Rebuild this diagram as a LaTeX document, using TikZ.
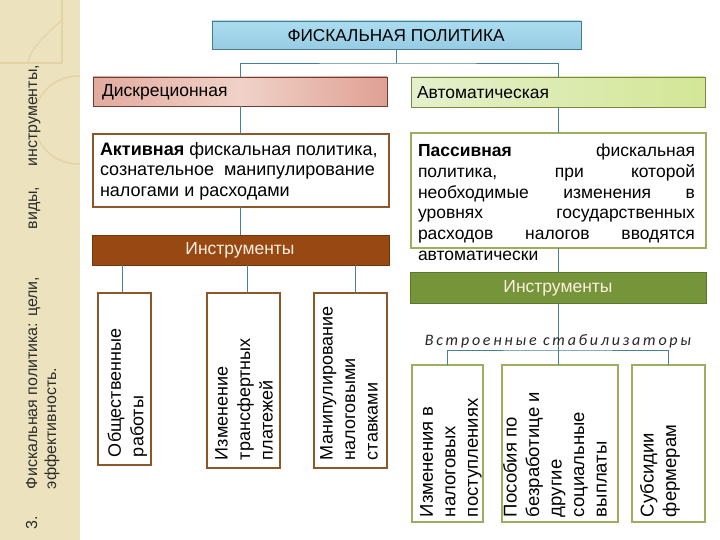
\documentclass[tikz,border=0pt]{standalone}
\usepackage{fontspec}
\setmainfont{Liberation Sans}
\newfontfamily\stabfont[LetterSpace=17]{Carlito}
\definecolor{stripbg}{RGB}{237,226,190}
\definecolor{stripline}{RGB}{226,212,168}
\definecolor{striptext}{RGB}{45,45,45}
\definecolor{conn}{RGB}{70,130,150}
\definecolor{blueT}{RGB}{172,220,238}
\definecolor{blueB}{RGB}{150,204,228}
\definecolor{blueD}{RGB}{70,125,145}
\definecolor{pinkL}{RGB}{226,170,158}
\definecolor{pinkM}{RGB}{240,210,200}
\definecolor{pinkR}{RGB}{224,160,148}
\definecolor{pinkD}{RGB}{110,62,50}
\definecolor{greenL}{RGB}{228,240,205}
\definecolor{greenR}{RGB}{212,230,150}
\definecolor{greenD}{RGB}{125,135,65}
\definecolor{brownF}{RGB}{152,72,18}
\definecolor{brownD}{RGB}{115,52,10}
\definecolor{brownB}{RGB}{140,88,40}
\definecolor{oliveF}{RGB}{118,148,58}
\definecolor{oliveD}{RGB}{92,118,42}
\definecolor{oliveB}{RGB}{155,175,95}
\definecolor{lighttext}{RGB}{252,240,225}
\tikzset{
  every node/.style={inner sep=0pt, outer sep=0pt},
  connector/.style={draw=conn, line width=0.9pt},
  mainfont/.style={font=\fontsize{17.5}{20.7}\selectfont},
  stripfont/.style={rotate=90, anchor=base west, text=striptext, font=\fontsize{16}{19}\selectfont},
  vfont/.style={font=\fontsize{18}{22.5}\selectfont},
  titlebox/.style={draw=blueD, line width=0.9pt, top color=blueT, bottom color=blueB},
  discbox/.style={draw=pinkD, line width=0.9pt, left color=pinkL, right color=pinkR, middle color=pinkM},
  autobox/.style={draw=greenD, line width=0.9pt, left color=greenL, right color=greenR},
  activebox/.style={draw=brownB, line width=2pt, fill=white},
  passivebox/.style={draw=oliveB, line width=2pt, fill=white},
  brownbar/.style={draw=brownD, line width=1pt, fill=brownF},
  olivebar/.style={draw=oliveD, line width=1pt, fill=oliveF},
  lbox/.style={draw=brownB, line width=2pt, fill=white},
  rbox/.style={draw=oliveB, line width=2pt, fill=white},
  vtext/.style={vfont, rotate=90, anchor=west, align=left},
  rvtext/.style={font=\fontsize{18.5}{22.5}\selectfont, rotate=90, anchor=west, align=left},
}
\begin{document}
\begin{tikzpicture}[x=1pt,y=-1pt]
\useasboundingbox (0,0) rectangle (720,540);
\fill[white] (0,0) rectangle (720,540);
\fill[stripbg] (0,0) rectangle (80,540);
\begin{scope}
\clip (0,0) rectangle (80,540);
\draw[stripline, line width=1.5pt] (78,120) circle (44);
\draw[stripline, line width=1.2pt] (0,63) -- (62,63) -- (62,0);
\draw[stripline, line width=1.2pt] (62,20) .. controls (40,40) and (30,50) .. (28,63);
\end{scope}

% left strip text
\node[stripfont] (num) at (37,529) {3.};
\node[stripfont] (head1) at (37,489)
  {\makebox[424pt][l]{Фискальная политика: цели,\hfill виды,\hspace{20pt}инструменты,}};
\node[stripfont] (head2) at (56,489) {эффективность.};

% top
\node[titlebox, minimum width=369pt, minimum height=28pt] (title) at (396.5,35) {};
\node[font=\fontsize{17.2}{19}\selectfont] (titletext) at (396,35.5) {ФИСКАЛЬНАЯ ПОЛИТИКА};

\node[discbox, minimum width=294pt, minimum height=29pt] (disc) at (240,91.5) {};
\node[mainfont, anchor=west] (disctext) at (102,92) {Дискреционная};
\node[autobox, minimum width=294pt, minimum height=30pt] (auto) at (558,92) {};
\node[mainfont, anchor=west] (autotext) at (417,92.5) {Автоматическая};

\coordinate (hub) at (396.5,63);
\draw[connector] (title.south) -- (hub);
\draw[connector] (disc.north) |- (hub) -| (auto.north);

% left branch
\node[activebox, minimum width=296pt, minimum height=73pt] (active) at (241,170.5) {};
\node[font=\fontsize{18}{20.6}\selectfont, anchor=north west, align=left] (activetext) at (100,142)
  {\textbf{Активная} фискальная политика,\\сознательное\ \ манипулирование\\налогами и расходами};
\draw[connector] (disc.south) -- (disc.south |- active.north);

\node[brownbar, minimum width=297pt, minimum height=30pt] (instrL) at (240.5,250) {};
\node[mainfont, text=lighttext] (instrLtext) at (240,250.5) {Инструменты};
\draw[connector] (active.south -| disc.south) -- (disc.south |- instrL.north);

\node[lbox, minimum width=53pt, minimum height=172pt] (v1) at (124.5,379) {};
\node[lbox, minimum width=73pt, minimum height=175pt] (v2) at (243.5,380.5) {};
\node[lbox, minimum width=73pt, minimum height=175pt] (v3) at (350.5,380.5) {};
\draw[connector] (instrL.south -| 122,0) -- (v1.north -| 122,0);
\draw[connector] (instrL.south -| 247,0) -- (v2.north -| 247,0);
\draw[connector] (instrL.south -| 355,0) -- (v3.north -| 355,0);
\node[vtext] (v1text) at (127.5,457) {Общественные\\работы};
\node[vtext] (v2text) at (244,460) {Изменение\\трансфертных\\платежей};
\node[vtext] (v3text) at (349,460) {Манипулирование\\налоговыми\\ставками};

% right branch
\node[passivebox, minimum width=295pt, minimum height=115pt] (passive) at (558,190.5) {};
\draw[connector] (auto.south) -- (passive.north);
\node[olivebar, minimum width=296pt, minimum height=31pt] (instrR) at (558,287.5) {};
\draw[connector] (passive.south) -- (instrR.north);
\node[mainfont, anchor=north west, align=left] (passivetext) at (418,144)
  {\makebox[277pt][s]{\textbf{Пассивная} фискальная}\\
   \makebox[277pt][s]{политика, при которой}\\
   \makebox[277pt][s]{необходимые изменения в}\\
   \makebox[277pt][s]{уровнях государственных}\\
   \makebox[277pt][s]{расходов налогов вводятся}\\
   автоматически};
\node[mainfont, text=lighttext] (instrRtext) at (558,288) {Инструменты};

\node[rbox, minimum width=71pt, minimum height=157pt] (r1) at (447.5,443.5) {};
\node[rbox, minimum width=116pt, minimum height=157pt] (r2) at (560,443.5) {};
\node[rbox, minimum width=73pt, minimum height=157pt] (r3) at (668.5,443.5) {};
\coordinate (sbar) at (558,350);
\draw[connector] (instrR.south) -- (instrR.south |- r2.north);
\draw[connector] (r1.north) |- (sbar) -| (r3.north);
\node[font=\stabfont\itshape\fontsize{16}{18}\selectfont, text=black!85] (stab) at (558,341.5) {Встроенные стабилизаторы};
\node[rvtext] (r1text) at (451,517) {Изменения в\\налоговых\\поступлениях};
\node[rvtext] (r2text) at (555,517) {Пособия по\\безработице и\\другие\\социальные\\выплаты};
\node[rvtext] (r3text) at (660,517) {Субсидии\\фермерам};
\end{tikzpicture}
\end{document}
